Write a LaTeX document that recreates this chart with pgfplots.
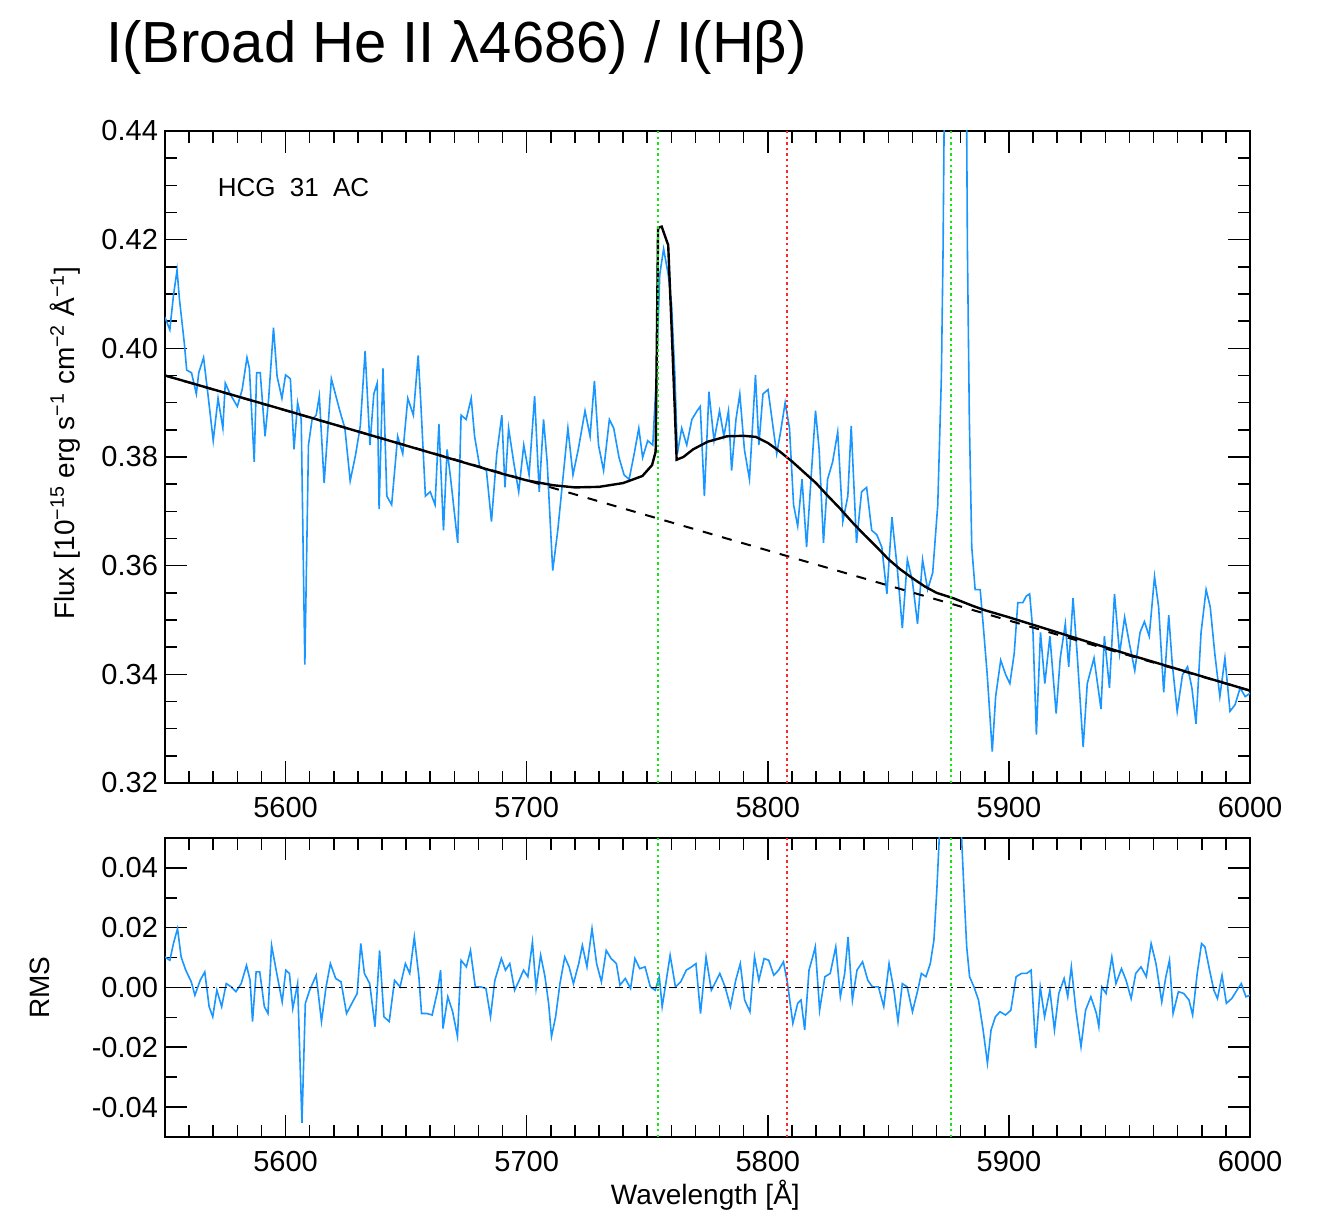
\documentclass[border=0pt]{standalone}
\usepackage{fontspec}
\setmainfont{Liberation Sans}
\usepackage{pgfplots}
\pgfplotsset{compat=1.18}
\definecolor{specblue}{RGB}{25,150,255}
\definecolor{lgreen}{RGB}{20,230,20}
\definecolor{lred}{RGB}{255,40,40}

\pgfplotstableread{
lam f
5550 0.4057
5552 0.4034
5553.5 0.4097
5555 0.4144
5556 0.409
5558 0.401
5559 0.396
5561 0.3955
5563 0.3916
5564 0.3955
5566 0.3983
5568 0.3908
5570 0.383
5572 0.3908
5574 0.3853
5575 0.3936
5577 0.3916
5580 0.3893
5582 0.3924
5584 0.3983
5585 0.3963
5587 0.3791
5588 0.3955
5589.5 0.3955
5591.5 0.3838
5593 0.3908
5595 0.4038
5596.5 0.3948
5598.5 0.3908
5600 0.3951
5602 0.3944
5603.5 0.3814
5605 0.39
5606.5 0.3869
5608 0.3418
5609.5 0.3822
5611 0.3869
5612.7 0.3877
5614 0.3912
5616 0.3752
5619 0.3944
5622.5 0.3885
5624.6 0.3853
5626.8 0.3756
5629 0.3803
5631 0.3857
5633 0.3995
5635 0.3822
5636.6 0.3916
5638 0.3936
5638.8 0.3704
5640.4 0.3963
5642 0.3728
5644 0.3712
5646.5 0.3838
5648.6 0.3806
5650.7 0.3908
5653 0.3877
5655 0.3987
5656 0.3908
5658 0.3728
5660 0.3736
5662 0.3712
5663.6 0.3861
5665.5 0.3665
5667 0.3814
5668.5 0.3759
5671.4 0.3642
5672.8 0.3877
5674.9 0.3869
5677 0.3908
5678.4 0.3838
5680.5 0.3783
5683.3 0.3775
5685.4 0.3681
5687.6 0.3806
5689.7 0.3877
5691 0.3744
5692.5 0.3853
5694.6 0.3791
5696.7 0.3736
5698.8 0.3822
5701 0.3767
5703.3 0.3912
5705.2 0.3736
5707 0.3869
5708.5 0.3791
5710.8 0.3591
5712.9 0.3665
5715 0.3759
5717.1 0.3853
5719.2 0.3767
5721.4 0.3814
5724.2 0.3885
5726.3 0.3838
5728.1 0.394
5729.8 0.3822
5731.9 0.3775
5734.3 0.3869
5736.1 0.3853
5738.3 0.3799
5740.4 0.3767
5742.5 0.3759
5744.6 0.3806
5746.5 0.3853
5748.1 0.3799
5750.2 0.383
5752.3 0.3822
5753.8 0.3948
5755.2 0.4136
5756.8 0.4183
5758.7 0.4136
5760.1 0.4081
5761.5 0.3948
5762.5 0.3806
5764.3 0.3853
5766.4 0.3822
5768.5 0.3869
5770.7 0.3885
5772 0.3893
5773.7 0.3728
5775.6 0.392
5777.7 0.383
5780 0.3885
5781.8 0.3838
5783.7 0.3885
5785 0.3775
5786.8 0.3869
5788.4 0.3916
5790.3 0.3814
5792.4 0.3759
5794.9 0.3951
5796.3 0.3822
5798 0.3916
5800.1 0.3924
5802 0.3861
5803.7 0.3806
5805.3 0.3846
5807.2 0.39
5809 0.3853
5810.7 0.3712
5812.4 0.3673
5814.2 0.3759
5816.1 0.3634
5817.7 0.3744
5819.8 0.3885
5821.3 0.3814
5823.1 0.3642
5824.8 0.3759
5826.9 0.3791
5829 0.3846
5831.1 0.3681
5833.2 0.3728
5834.6 0.3857
5836.8 0.3642
5838.9 0.3736
5841 0.3744
5843.1 0.3665
5845.2 0.3657
5847.3 0.3634
5849.4 0.3548
5851.5 0.3689
5853.7 0.3595
5855.8 0.3485
5857.9 0.3611
5860 0.3571
5862.1 0.3493
5864.2 0.3611
5866.3 0.3556
5868.4 0.3587
5870.5 0.3712
5872 0.3948
5872.7 0.4183
5873.5 0.46
5875 0.50
5877 0.52
5879 0.51
5881 0.48
5882.5 0.44
5882.8 0.4183
5883.6 0.3869
5884.6 0.3634
5886 0.3556
5888.1 0.3556
5889.6 0.3477
5891 0.34
5893.1 0.3258
5894.5 0.3359
5896.6 0.3426
5898.7 0.3399
5900.4 0.3383
5902.2 0.3438
5903.7 0.3532
5905.8 0.3532
5907.2 0.3544
5908.6 0.3548
5910 0.3477
5911.4 0.3289
5913.1 0.3477
5914.9 0.3383
5917 0.347
5919.6 0.3328
5921.3 0.343
5923.4 0.3493
5924.8 0.3414
5926.6 0.354
5928.3 0.3438
5930.8 0.3266
5932.5 0.3383
5935.3 0.343
5938.2 0.3336
5939.6 0.347
5941.7 0.3375
5943.8 0.3548
5945.9 0.3438
5948 0.3505
5950.1 0.3454
5952.2 0.3407
5954.4 0.3477
5956.2 0.3497
5958.2 0.347
5960.4 0.358
5962.1 0.3524
5964.2 0.3367
5966.3 0.3509
5967.7 0.3422
5969.8 0.3332
5972 0.3399
5974.1 0.3414
5975.9 0.3375
5977.6 0.3309
5979.7 0.3477
5981.8 0.3556
5983.5 0.3524
5985.4 0.3438
5987.5 0.3359
5989.6 0.343
5991.7 0.3332
5993.8 0.3344
5995.9 0.3375
5998 0.3359
6000 0.3365
}\spectrum

\pgfplotstableread{
lam f
5550 0.395
5600 0.3886
5650 0.3821
5690 0.3769
5700 0.3757
5711 0.3748
5720 0.3744
5730 0.3745
5740 0.3752
5748 0.3765
5752 0.3785
5753.5 0.3810
5754.5 0.4222
5756 0.4224
5757.5 0.4205
5758.7 0.4190
5760 0.4050
5761.5 0.3880
5762.2 0.3795
5765 0.3800
5769 0.3814
5775 0.3828
5783 0.3838
5790 0.3839
5795 0.3837
5800 0.3826
5805 0.3810
5810 0.3792
5815 0.3772
5820 0.3752
5825 0.3728
5830 0.3705
5835 0.3680
5840 0.3657
5845 0.3635
5850 0.3612
5855 0.3593
5860 0.3577
5865 0.3562
5870 0.3550
5877 0.3540
5885 0.3526
5890 0.3518
5900 0.3505
5950 0.3436
6000 0.3370
}\fit

\pgfplotstableread{
lam f
5550 0.395
5700 0.3757
5800 0.3628
5900 0.3499
6000 0.3370
}\cont

\pgfplotstableread{
lam r
5550 0.0102
5552 0.0091
5553.5 0.0147
5555.2 0.0197
5556.7 0.0102
5558.6 0.0058
5560.9 0.0019
5562.4 -0.0026
5564.6 0.0024
5566.5 0.0052
5568.3 -0.0064
5569.8 -0.0098
5571.5 -0.0009
5573.5 -0.0064
5575.4 0.0013
5577.5 0.0002
5579.4 -0.0014
5581.6 0.0013
5583.8 0.0074
5585.3 0.0024
5586.3 -0.0114
5587.8 0.0052
5589.3 0.0052
5591.2 -0.0064
5592.7 -0.0087
5594.2 0.0141
5596.1 0.0058
5598.6 -0.0048
5600.1 0.0058
5601.6 0.0047
5603 -0.007
5605 0.0013
5606.8 -0.0453
5608.2 -0.0053
5610 -0.0009
5612.7 0.0041
5614.9 -0.0114
5616.8 0.0002
5618.6 0.008
5620.8 0.003
5623 0.0019
5625.3 -0.0087
5627.5 -0.0053
5629.7 -0.002
5631.2 0.0147
5632.7 0.0047
5634.9 0.0013
5637.1 -0.0131
5639 0.0124
5640.8 -0.0098
5643 -0.0114
5645.2 0.0024
5647.5 0.0002
5649.7 0.008
5651.5 0.0047
5653.4 0.0169
5655.3 0.0036
5656.4 -0.0087
5658.6 -0.0087
5660.8 -0.0092
5663.1 -0.0009
5664.3 0.0058
5665.3 -0.0137
5667.3 -0.0031
5669.3 -0.0081
5671.3 -0.0164
5672.8 0.0091
5675 0.0069
5676.7 0.0124
5678.7 0.0002
5680.9 0.0002
5683.1 -0.0003
5685 -0.0098
5686.8 0.0024
5689.5 0.0097
5691.2 0.0058
5693 0.008
5695 -0.0009
5696.9 0.0024
5698.7 0.0058
5700.5 0.0036
5702.4 0.0152
5703.9 -0.0003
5705.8 0.0108
5707.6 0.0036
5709.1 -0.0053
5710.3 -0.0164
5712 -0.0098
5713.8 0.0013
5715.8 0.0102
5717.6 0.0069
5719.4 0.0013
5721.6 0.008
5723.1 0.0141
5725 0.0069
5727.1 0.0197
5729 0.008
5731 0.0019
5733 0.0124
5735 0.0097
5737.2 0.008
5738.7 0.0008
5740.9 0.003
5743.1 -0.0003
5744.9 0.0097
5746.9 0.0063
5749.1 0.0069
5751.3 0.0002
5753.3 -0.0009
5755 0.0036
5756.2 -0.0064
5757.7 0.0013
5759.5 0.0108
5761.7 0.0002
5763.9 0.0019
5766.2 0.0058
5768.4 0.0069
5770.2 0.008
5772.1 -0.0087
5774.4 0.0102
5776.6 -0.0009
5778 0.0013
5780.1 0.0047
5782.3 0.0002
5784.5 -0.0064
5786.7 0.0024
5788.6 0.008
5790.4 -0.0042
5792.6 -0.0081
5794.5 0.0102
5796.3 0.0024
5798.5 0.0097
5800.4 0.0091
5802.5 0.0041
5804.5 0.0058
5806.5 0.0086
5808.2 0.0013
5810.4 -0.012
5812.4 -0.0053
5813.8 -0.0042
5815.3 -0.0142
5817.1 0.0058
5818.6 0.0102
5819.7 0.0136
5821.5 -0.0076
5823.7 0.0036
5825.9 0.0047
5828.2 0.0136
5830.1 -0.0031
5831.9 0.0047
5833.3 0.0169
5835.1 -0.0042
5837 0.0058
5839.3 0.0086
5841.5 0.0024
5843.4 0.0002
5845.9 0.0002
5848.1 -0.0064
5850.3 0.008
5852.3 -0.0009
5854 -0.0114
5855.8 0.0013
5857.8 0.0002
5860 -0.0081
5862.2 -0.0009
5863.7 0.0047
5865.6 0.0036
5867.4 0.008
5868.9 0.0158
5870.1 0.0324
5871.1 0.0497
5873 0.10
5876 0.14
5879 0.11
5880.4 0.0497
5881.5 0.0302
5882.5 0.0136
5883.7 0.0036
5885.5 0.0002
5887.4 -0.0042
5889.3 -0.0142
5891.1 -0.0253
5892.6 -0.0142
5894.4 -0.0098
5896.3 -0.0081
5898.6 -0.0092
5900.8 -0.0076
5903 0.0036
5905.2 0.0047
5907.4 0.0047
5909.2 0.0058
5911.1 -0.0203
5913 0.0002
5914.8 -0.0098
5917 -0.0009
5918.9 -0.0142
5920.7 -0.002
5922.9 0.003
5924.4 -0.0031
5925.9 0.0069
5927.8 -0.0076
5929.9 -0.0198
5931.8 -0.0076
5934 -0.0031
5936.3 -0.0087
5937.3 -0.0131
5938.5 0.0002
5940.3 -0.002
5942.7 0.0102
5944.4 0.0013
5946.7 0.0063
5948.6 0.0024
5950.7 -0.0037
5952.6 0.0047
5954.8 0.0069
5957 0.0036
5959 0.0147
5961 0.008
5963.4 -0.0048
5965.1 0.0036
5966.6 0.0091
5968.1 -0.0087
5970.3 -0.0014
5972.5 -0.002
5974.7 -0.0042
5976.2 -0.0092
5978.1 0.0047
5979.9 0.0147
5981.3 0.0136
5983.1 0.0063
5985 -0.0009
5986.5 -0.0037
5988.4 0.0041
5990.2 -0.0053
5992.4 -0.0037
5994.6 -0.0009
5996.4 0.0013
5998.3 -0.0031
6000 -0.0026
}\rms

\pgfplotsset{
  idl/.style={
    scale only axis, width=542.5pt,
    xmin=5550, xmax=6000,
    xtick={5600,5700,5800,5900,6000},
    minor xtick={5560,5570,...,5990},
    tick align=inside,
    major tick length=11pt, minor tick length=6pt,
    every tick/.style={black, line width=0.8pt},
    axis line style={line width=1pt},
    tick label style={font=\fontsize{14.5}{16}\selectfont},
    label style={font=\fontsize{14}{16}\selectfont},
    /pgf/number format/assume math mode=true,
    scaled y ticks=false,
    xticklabel style={yshift=-3.5pt, /pgf/number format/1000 sep={}},
    yticklabel style={/pgf/number format/fixed, /pgf/number format/fixed zerofill, /pgf/number format/precision=2},
  },
  vline/.style={line width=1pt, dash pattern=on 1.2pt off 1.6pt},
}

\begin{document}
\begin{tikzpicture}
\path[use as bounding box] (0,0) rectangle (663.5pt,607pt);
\node[anchor=base west, font=\fontsize{29}{35}\selectfont] at (49.5pt,575.5pt) {I(Broad He II λ4686) / I(Hβ)};

\begin{axis}[idl,
  at={(82.5pt,215.5pt)}, anchor=south west, height=326pt,
  ymin=0.32, ymax=0.44,
  ytick={0.32,0.34,...,0.44},
  minor y tick num=3,
  ylabel={Flux [10\textsuperscript{−15} erg s\textsuperscript{−1} cm\textsuperscript{−2} Å\textsuperscript{−1}]},
  ylabel style={at={(axis description cs:-0.0922,0.521)}, anchor=center},
]
\addplot[specblue, line width=0.8pt] table[x=lam, y=f] {\spectrum};
\addplot[black, line width=1pt, dash pattern=on 5pt off 5pt] table[x=lam, y=f] {\cont};
\addplot[black, line width=1.2pt] table[x=lam, y=f] {\fit};
\addplot[lgreen, vline] coordinates {(5754.5,0.32) (5754.5,0.44)};
\addplot[lred, vline] coordinates {(5808,0.32) (5808,0.44)};
\addplot[lgreen, vline] coordinates {(5876,0.32) (5876,0.44)};
\node[anchor=west, font=\fontsize{13}{15}\selectfont] at (axis cs:5569,0.4295) {HCG\hspace{0.55em}31\hspace{0.55em}AC};
\end{axis}

\begin{axis}[idl,
  at={(82.5pt,38.5pt)}, anchor=south west, height=149.5pt,
  ymin=-0.05, ymax=0.05,
  ytick={-0.04,-0.02,0,0.02,0.04},
  minor y tick num=1,
  ylabel={RMS},
  ylabel style={at={(axis description cs:-0.115,0.5)}, anchor=center},
  xlabel={Wavelength [Å]},
  xlabel style={at={(axis description cs:0.498,-0.194)}, anchor=center},
]
\addplot[specblue, line width=0.8pt] table[x=lam, y=r] {\rms};
\addplot[black, line width=0.9pt, dash pattern=on 4pt off 2pt on 1pt off 2pt] coordinates {(5550,0) (6000,0)};
\addplot[lgreen, vline] coordinates {(5754.5,-0.05) (5754.5,0.05)};
\addplot[lred, vline] coordinates {(5808,-0.05) (5808,0.05)};
\addplot[lgreen, vline] coordinates {(5876,-0.05) (5876,0.05)};
\end{axis}
\end{tikzpicture}
\end{document}
